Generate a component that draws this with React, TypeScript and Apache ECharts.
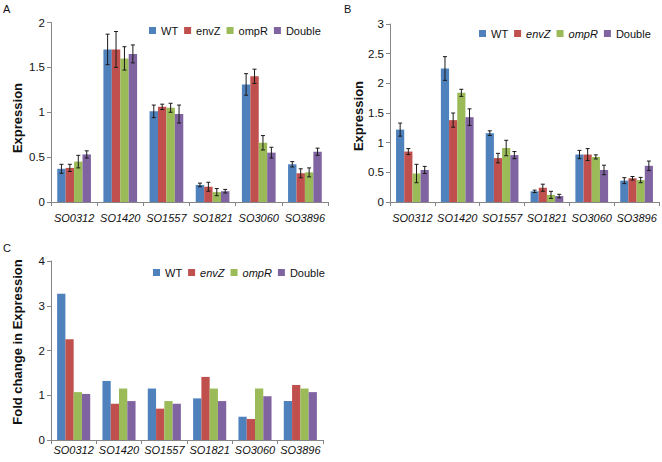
import React, { useEffect, useRef } from "react";
import * as echarts from "echarts";

const categories = ["SO0312", "SO1420", "SO1557", "SO1821", "SO3060", "SO3896"];
const seriesNames = ["WT", "envZ", "ompR", "Double"];
const colors = ["#4F81BD", "#C0504D", "#9BBB59", "#8064A2"];

// Panel A: expression
const aWT = [0.37, 1.7, 1.01, 0.19, 1.31, 0.42];
const aEnvZ = [0.38, 1.7, 1.06, 0.17, 1.4, 0.32];
const aOmpR = [0.45, 1.6, 1.05, 0.11, 0.66, 0.33];
const aDouble = [0.53, 1.65, 0.98, 0.12, 0.55, 0.56];
const aWTErr = [0.05, 0.17, 0.07, 0.02, 0.12, 0.03];
const aEnvZErr = [0.04, 0.2, 0.03, 0.05, 0.08, 0.05];
const aOmpRErr = [0.07, 0.13, 0.05, 0.04, 0.08, 0.05];
const aDoubleErr = [0.04, 0.1, 0.1, 0.02, 0.06, 0.04];

// Panel B: expression
const bWT = [1.22, 2.25, 1.16, 0.18, 0.8, 0.36];
const bEnvZ = [0.85, 1.38, 0.74, 0.24, 0.8, 0.4];
const bOmpR = [0.48, 1.84, 0.91, 0.12, 0.76, 0.37];
const bDouble = [0.54, 1.43, 0.79, 0.1, 0.54, 0.61];
const bWTErr = [0.11, 0.2, 0.04, 0.02, 0.07, 0.05];
const bEnvZErr = [0.05, 0.12, 0.08, 0.06, 0.1, 0.03];
const bOmpRErr = [0.155, 0.06, 0.13, 0.06, 0.035, 0.045];
const bDoubleErr = [0.06, 0.14, 0.06, 0.03, 0.08, 0.08];

// Panel C: fold change
const cWT = [3.27, 1.32, 1.15, 0.93, 0.52, 0.87];
const cEnvZ = [2.25, 0.81, 0.7, 1.41, 0.47, 1.23];
const cOmpR = [1.07, 1.15, 0.87, 1.15, 1.15, 1.15];
const cDouble = [1.03, 0.87, 0.81, 0.87, 0.98, 1.07];

const yTicksA = { min: 0, max: 2, interval: 0.5 };
const yTicksB = { min: 0, max: 3, interval: 0.5 };
const yTicksC = { min: 0, max: 4, interval: 1 };

const FONT = "'Liberation Sans', Arial, sans-serif";
const CAT_GAP = 0.27;
const AXIS_COLOR = "#868686";

export default function App() {
  const ref = useRef<HTMLDivElement>(null);

  useEffect(() => {
    if (!ref.current) return;
    const chart = echarts.init(ref.current, undefined, { renderer: "svg" });

    const grids = [
      { left: 51, top: 22.5, width: 277, height: 179.5 },
      { left: 390, top: 24, width: 269, height: 178 },
      { left: 51, top: 261, width: 272, height: 179 },
    ];
    const yTicks = [yTicksA, yTicksB, yTicksC];
    const xMargins = [10, 10, 4];

    const xAxes = grids.map((_, gi) => ({
      type: "category",
      gridIndex: gi,
      data: categories,
      axisLine: { lineStyle: { color: AXIS_COLOR, width: 1 } },
      axisTick: { show: true, length: 4, lineStyle: { color: AXIS_COLOR } },
      axisLabel: {
        interval: 0,
        margin: xMargins[gi],
        fontStyle: "italic",
        fontSize: 11,
        color: "#111",
        fontFamily: FONT,
      },
    }));
    const yAxes = grids.map((_, gi) => ({
      type: "value",
      gridIndex: gi,
      min: yTicks[gi].min,
      max: yTicks[gi].max,
      interval: yTicks[gi].interval,
      splitLine: { show: false },
      axisLine: { show: true, lineStyle: { color: AXIS_COLOR, width: 1 } },
      axisTick: { show: true, length: 4, lineStyle: { color: AXIS_COLOR } },
      axisLabel: { margin: 6, fontSize: 11.5, color: "#111", fontFamily: FONT },
    }));

    const panelVals = [
      [aWT, aEnvZ, aOmpR, aDouble],
      [bWT, bEnvZ, bOmpR, bDouble],
      [cWT, cEnvZ, cOmpR, cDouble],
    ];
    const panelErrs = [
      [aWTErr, aEnvZErr, aOmpRErr, aDoubleErr],
      [bWTErr, bEnvZErr, bOmpRErr, bDoubleErr],
      null,
    ];

    const series: any[] = [];
    panelVals.forEach((vals, gi) => {
      vals.forEach((arr, si) => {
        series.push({
          type: "bar",
          name: seriesNames[si],
          xAxisIndex: gi,
          yAxisIndex: gi,
          data: arr,
          barGap: "0%",
          barCategoryGap: CAT_GAP * 100 + "%",
          itemStyle: { color: colors[si] },
        });
      });
      const errs = panelErrs[gi];
      if (errs) {
        errs.forEach((earr, si) => {
          series.push({
            type: "custom",
            name: seriesNames[si],
            xAxisIndex: gi,
            yAxisIndex: gi,
            z: 10,
            encode: { x: 0, y: 1 },
            data: vals[si].map((v, ci) => [ci, v, earr[ci]]),
            renderItem: (params: any, api: any) => {
              const ci = api.value(0);
              const v = api.value(1);
              const e = api.value(2);
              const top = api.coord([ci, v + e]);
              const bot = api.coord([ci, v - e]);
              const band = api.size([1, 0])[0];
              const bw = (band * (1 - CAT_GAP)) / 4;
              const cx = top[0] + (si - 1.5) * bw;
              const cap = 2;
              const st = { stroke: "#1a1a1a", lineWidth: 1 };
              return {
                type: "group",
                children: [
                  { type: "line", shape: { x1: cx, y1: top[1], x2: cx, y2: bot[1] }, style: st },
                  { type: "line", shape: { x1: cx - cap, y1: top[1], x2: cx + cap, y2: top[1] }, style: st },
                  { type: "line", shape: { x1: cx - cap, y1: bot[1], x2: cx + cap, y2: bot[1] }, style: st },
                ],
              };
            },
          });
        });
      }
    });

    const italicFormatter = (name: string) =>
      name === "envZ" || name === "ompR" ? `{i|${name}}` : name;
    const legendBase = {
      orient: "horizontal",
      icon: "rect",
      itemWidth: 7,
      itemHeight: 7,
      itemGap: 6,
      padding: 0,
      selectedMode: false,
      data: seriesNames,
      textStyle: {
        fontSize: 11,
        color: "#111",
        fontFamily: FONT,
        rich: { i: { fontStyle: "italic", fontSize: 11, color: "#111", fontFamily: FONT } },
      },
    };

    const yLabel = (text: string, x: number, y: number) => ({
      type: "text",
      x,
      y,
      rotation: Math.PI / 2,
      style: {
        text,
        fontSize: 13,
        fontWeight: "bold",
        fill: "#111",
        fontFamily: FONT,
        align: "center",
        verticalAlign: "middle",
      },
    });

    chart.setOption({
      animation: false,
      textStyle: { fontFamily: FONT },
      grid: grids.map((g) => ({ ...g, containLabel: false })),
      xAxis: xAxes,
      yAxis: yAxes,
      legend: [
        { ...legendBase, left: 149, top: 25 },
        { ...legendBase, left: 479, top: 28, formatter: italicFormatter },
        { ...legendBase, left: 153, top: 267, formatter: italicFormatter },
      ],
      graphic: [
        { type: "text", left: 3, top: 3, style: { text: "A", fontSize: 11, fill: "#111", fontFamily: FONT } },
        { type: "text", left: 344, top: 3, style: { text: "B", fontSize: 11, fill: "#111", fontFamily: FONT } },
        { type: "text", left: 3, top: 242, style: { text: "C", fontSize: 11, fill: "#111", fontFamily: FONT } },
        yLabel("Expression", 17.5, 118),
        yLabel("Expression", 358, 116),
        yLabel("Fold change in Expression", 17.5, 342),
      ],
      series,
    });

    return () => chart.dispose();
  }, []);

  return (
    <div
      ref={ref}
      style={{ position: "absolute", left: 0, top: 0, width: 662, height: 462, background: "#fff" }}
    />
  );
}
